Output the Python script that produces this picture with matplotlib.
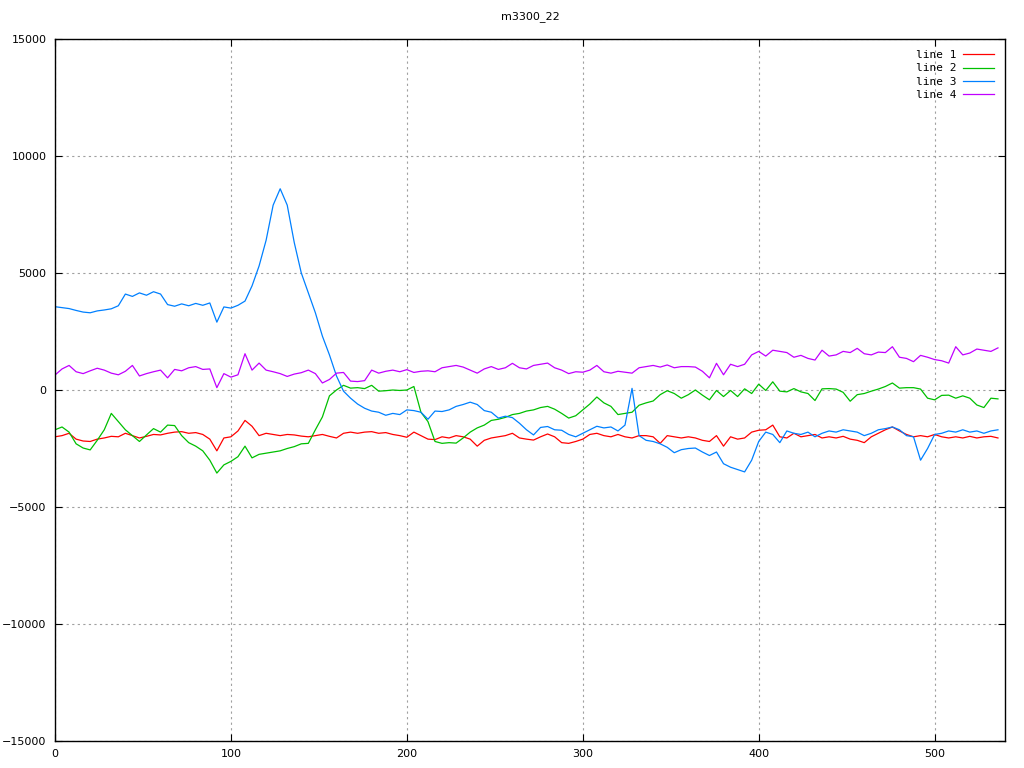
import numpy as np
import matplotlib
matplotlib.use("Agg")
import matplotlib.pyplot as plt

# values, one every 4 samples
line1 = [-2000, -1950, -1850, -2100, -2180, -2200, -2100, -2050, -1980, -2000,
         -1850, -1950, -2050, -1980, -1900, -1920, -1850, -1800, -1780, -1850,
         -1820, -1900, -2100, -2600, -2050, -2000, -1750, -1300, -1550, -1950,
         -1850, -1900, -1950, -1900, -1920, -1970, -2000, -1950, -1900, -1980,
         -2050, -1850, -1800, -1850, -1800, -1780, -1850, -1820, -1900, -1950,
         -2020, -1800, -1950, -2100, -2120, -2000, -2050, -1950, -2000, -2100,
         -2400, -2150, -2050, -2000, -1950, -1850, -2050, -2100, -2140, -2000,
         -1880, -2000, -2250, -2280, -2200, -2100, -1900, -1850, -1950, -2000,
         -1900, -2000, -2050, -1950, -1950, -2000, -2280, -1950, -2000, -2050,
         -2000, -2050, -2150, -2200, -1950, -2400, -2000, -2100, -2050, -1800,
         -1720, -1700, -1500, -2000, -2050, -1850, -2000, -1950, -1900, -2050,
         -2000, -2050, -1980, -2100, -2150, -2250, -2000, -1850, -1700, -1580,
         -1750, -1900, -2000, -1950, -2000, -1900, -2000, -2050, -2000, -2050,
         -1980, -2050, -2000, -1980, -2050]

line2 = [-1700, -1580, -1800, -2300, -2480, -2560, -2150, -1700, -1000, -1350,
         -1700, -1950, -2200, -1920, -1650, -1800, -1500, -1520, -1950, -2250,
         -2400, -2600, -3000, -3550, -3200, -3050, -2850, -2400, -2900, -2750,
         -2700, -2650, -2600, -2500, -2420, -2300, -2280, -1700, -1150, -250,
         0, 200, 80, 100, 60, 200, -50, -30, 0, -20,
         0, 150, -950, -1350, -2200, -2280, -2250, -2270, -2050, -1800,
         -1620, -1500, -1300, -1250, -1170, -1050, -1000, -900, -850, -750,
         -700, -820, -1000, -1200, -1100, -850, -600, -300, -550, -700,
         -1050, -1000, -950, -650, -550, -470, -200, -30, -150, -350,
         -200, 0, -220, -420, -20, -280, -20, -280, 50, -150,
         250, -20, 350, -50, -80, 60, -80, -150, -450, 50,
         60, 40, -100, -480, -200, -150, -50, 40, 150, 300,
         80, 100, 100, 40, -350, -420, -230, -220, -350, -250,
         -350, -640, -750, -350, -380]

line3 = [3560, 3520, 3480, 3400, 3330, 3300, 3380, 3420, 3470, 3600,
         4100, 4000, 4150, 4050, 4200, 4100, 3650, 3580, 3680, 3600,
         3700, 3620, 3720, 2900, 3550, 3500, 3620, 3800, 4450, 5300,
         6400, 7900, 8600, 7900, 6300, 5000, 4150, 3300, 2300, 1500,
         600, -50, -350, -600, -780, -900, -950, -1080, -1000, -1050,
         -850, -880, -950, -1250, -900, -920, -850, -700, -620, -520,
         -620, -880, -950, -1200, -1120, -1180, -1420, -1700, -1920, -1600,
         -1560, -1700, -1720, -1900, -2000, -1850, -1700, -1550, -1620, -1580,
         -1750, -1500, 70, -1950, -2150, -2200, -2300, -2450, -2680, -2550,
         -2500, -2480, -2650, -2800, -2650, -3150, -3300, -3400, -3500, -3000,
         -2200, -1800, -1900, -2250, -1750, -1850, -1900, -1800, -2000, -1850,
         -1750, -1800, -1700, -1750, -1800, -1950, -1850, -1700, -1650, -1580,
         -1700, -1950, -2000, -3000, -2500, -1900, -1850, -1750, -1800, -1700,
         -1800, -1750, -1850, -1750, -1700]

line4 = [640, 900, 1050, 780, 700, 820, 930, 850, 720, 650,
         800, 1050, 600, 700, 780, 850, 520, 880, 820, 950,
         1000, 880, 900, 100, 700, 550, 650, 1550, 850, 1150,
         850, 780, 700, 580, 680, 740, 850, 700, 300, 450,
         720, 750, 380, 360, 400, 850, 720, 800, 850, 780,
         870, 750, 800, 820, 780, 950, 1000, 1050, 980, 850,
         720, 900, 1000, 880, 950, 1140, 950, 900, 1050, 1100,
         1150, 950, 850, 700, 780, 760, 850, 1050, 780, 720,
         800, 760, 720, 950, 1000, 1050, 980, 1070, 950, 1000,
         1000, 980, 800, 520, 1140, 650, 1100, 1000, 1100, 1500,
         1650, 1450, 1700, 1650, 1600, 1400, 1480, 1350, 1280, 1700,
         1450, 1500, 1650, 1600, 1780, 1550, 1500, 1620, 1600, 1850,
         1400, 1350, 1210, 1480, 1400, 1300, 1250, 1150, 1850, 1500,
         1580, 1750, 1700, 1650, 1800]

series = [("line 1", line1, "#ff0000"),
          ("line 2", line2, "#00c000"),
          ("line 3", line3, "#0080ff"),
          ("line 4", line4, "#c000ff")]

fig = plt.figure(figsize=(10.24, 7.68), dpi=100)
ax = fig.add_axes([55/1024, 27/768, 950/1024, 702/768])

for name, vals, col in series:
    x = np.arange(len(vals)) * 4
    ax.plot(x, vals, color=col, lw=0.9, label=name)

ax.set_xlim(0, 540)
ax.set_ylim(-15000, 15000)
ax.set_xticks([0, 100, 200, 300, 400, 500])
ax.set_yticks(np.arange(-15000, 15001, 5000))
ax.grid(True, color="#a0a0a0", linestyle=(0, (2, 3)), linewidth=0.8)
ax.tick_params(direction="in", length=5, top=True, right=True, labelsize=8, pad=6)
for s in ax.spines.values():
    s.set_linewidth(1.0)

ax.set_title("m3300_22", fontsize=8, pad=14)

leg = ax.legend(loc="upper right", frameon=False, markerfirst=False,
                prop={"family": "DejaVu Sans Mono", "size": 8},
                handlelength=2.8, handletextpad=0.6, labelspacing=0.3,
                borderaxespad=0.6, borderpad=0.4)

fig.savefig("out.png", dpi=100)
